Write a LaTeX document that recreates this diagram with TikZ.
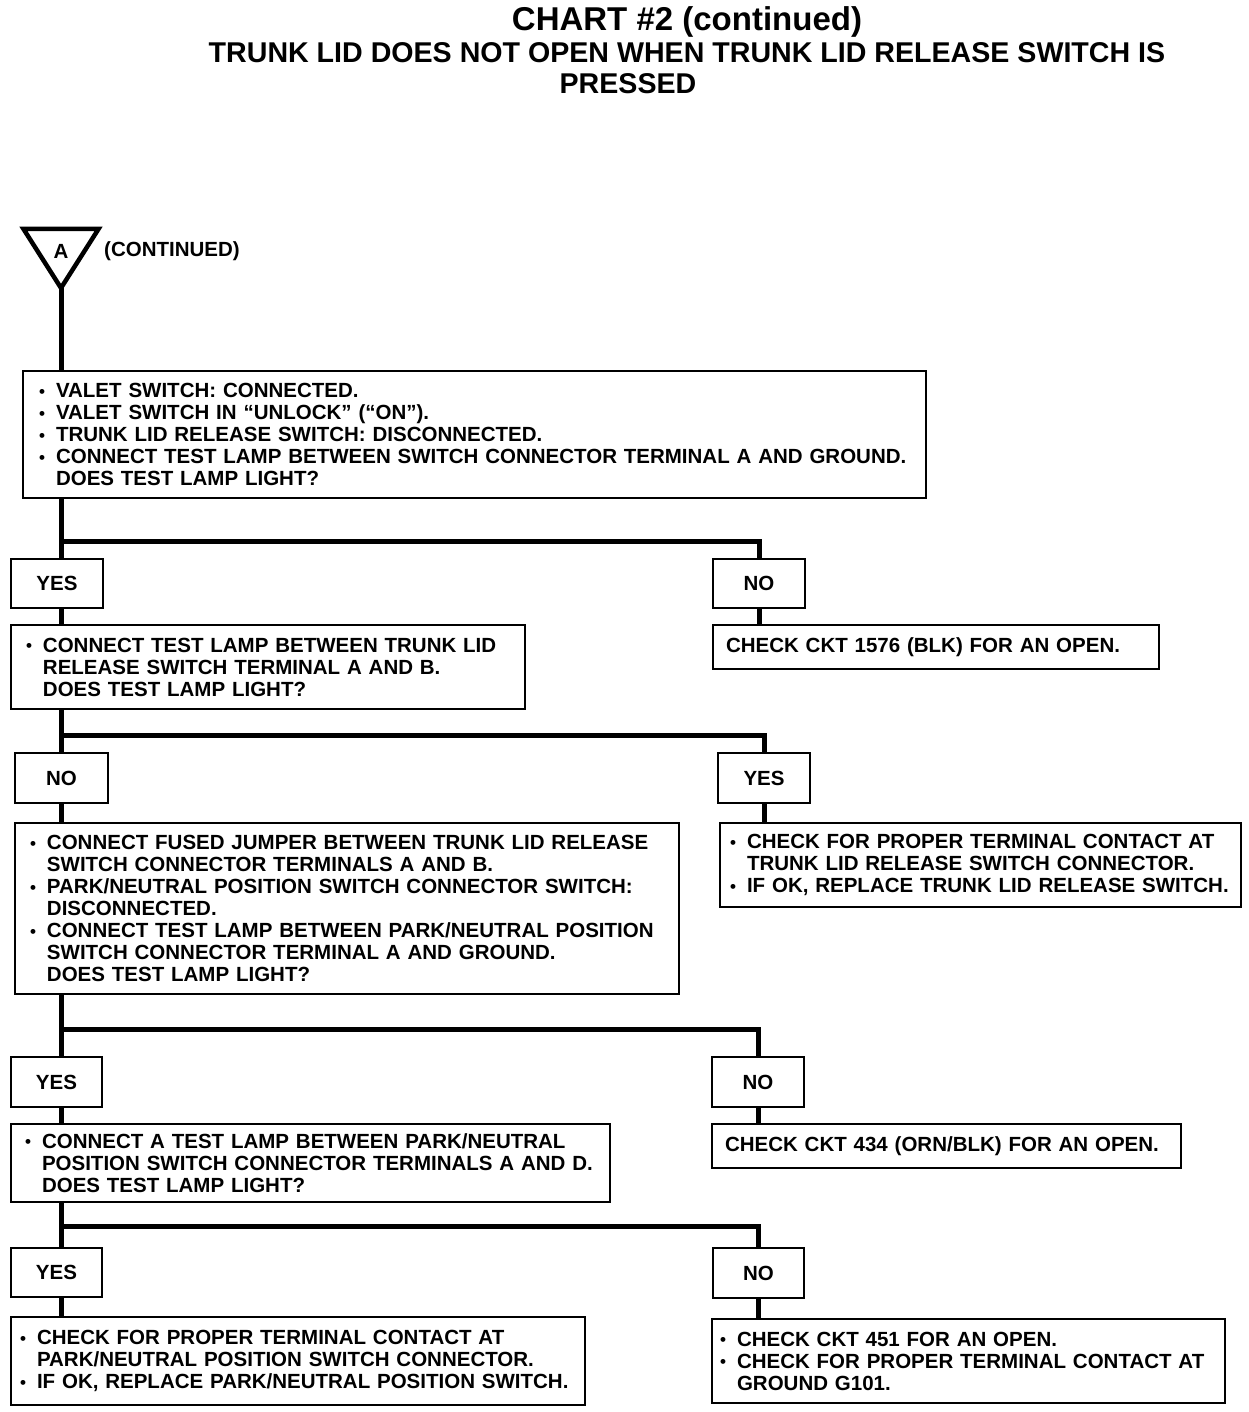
\documentclass[tikz,border=0pt]{standalone}
\usepackage{fontspec}
\setmainfont{Liberation Sans}
\usetikzlibrary{shapes.geometric}

\newcommand{\blt}{\makebox[17pt][l]{\raisebox{.5pt}{\fontsize{17}{17}\selectfont\textbullet}}}
\newcommand{\ind}{\hspace*{17pt}}

\tikzset{
  chart/.style={font=\fontsize{20.5}{22}\selectfont\bfseries},
  tbox/.style n args={3}{draw, line width=2pt, anchor=north west, align=left,
    inner xsep=#3, inner ysep=0pt,
    /utils/exec={\pgfmathsetlengthmacro\boxtw{#1-2*#3}},
    minimum width=#1, text width=\boxtw, minimum height=#2},
  ans/.style 2 args={draw, line width=2pt, anchor=north west, inner sep=0pt,
    minimum width=#1, minimum height=#2},
  conn/.style={line width=5pt},
}

\begin{document}
\begin{tikzpicture}[x=1pt, y=-1pt, chart]
  \useasboundingbox (0,0) rectangle (1248,1412);

  \node[font=\fontsize{33}{36}\selectfont\bfseries, anchor=base] (title) at (687,31) {CHART \#2 (continued)};
  \node[font=\fontsize{28.6}{30}\selectfont\bfseries, anchor=base] (sub) at (687,63)
    {TRUNK LID DOES NOT OPEN WHEN TRUNK LID RELEASE SWITCH IS};
  \node[font=\fontsize{28.6}{30}\selectfont\bfseries, anchor=base] (sub2) at (628,94) {PRESSED};

  \node[draw, line width=4.5pt, isosceles triangle, isosceles triangle stretches,
    shape border rotate=270, minimum width=75, minimum height=59, inner sep=0pt,
    outer sep=0pt, anchor=apex] (tri) at (61,288) {};
  \node (A) at (61,251) {A};
  \node[anchor=west, inner sep=0pt] (cont) at (104,251) {(CONTINUED)};

  % step 1
  \node[tbox={903}{127}{16}] (b1) at (22,370)
    {\blt VALET SWITCH: CONNECTED.\\
     \blt VALET SWITCH IN ``UNLOCK'' (``ON'').\\
     \blt TRUNK LID RELEASE SWITCH: DISCONNECTED.\\
     \blt CONNECT TEST LAMP BETWEEN SWITCH CONNECTOR TERMINAL A AND GROUND.\\
     \ind DOES TEST LAMP LIGHT?};
  \coordinate (j1) at (61,541);
  \node[ans={92}{49}] (yes1) at (10,558) {YES};
  \node[ans={92}{49}] (no1) at (712,558) {NO};
  \node[tbox={514}{84}{15}] (b2) at (10,624)
    {\blt CONNECT TEST LAMP BETWEEN TRUNK LID\\
     \ind RELEASE SWITCH TERMINAL A AND B.\\
     \ind DOES TEST LAMP LIGHT?};
  \node[tbox={446}{44}{13}] (r1) at (712,624) {CHECK CKT 1576 (BLK) FOR AN OPEN.};

  % step 2
  \coordinate (j2) at (61,735);
  \node[ans={93}{50}] (no2) at (14,752) {NO};
  \node[ans={92}{50}] (yes2) at (717,752) {YES};
  \node[tbox={664}{171}{15}] (b3) at (14,822)
    {\blt CONNECT FUSED JUMPER BETWEEN TRUNK LID RELEASE\\
     \ind SWITCH CONNECTOR TERMINALS A AND B.\\
     \blt PARK/NEUTRAL POSITION SWITCH CONNECTOR SWITCH:\\
     \ind DISCONNECTED.\\
     \blt CONNECT TEST LAMP BETWEEN PARK/NEUTRAL POSITION\\
     \ind SWITCH CONNECTOR TERMINAL A AND GROUND.\\
     \ind DOES TEST LAMP LIGHT?};
  \node[tbox={521}{84}{10}] (r2) at (719,822)
    {\blt CHECK FOR PROPER TERMINAL CONTACT AT\\
     \ind TRUNK LID RELEASE SWITCH CONNECTOR.\\
     \blt IF OK, REPLACE TRUNK LID RELEASE SWITCH.};

  % step 3
  \coordinate (j3) at (61,1029);
  \node[ans={91}{50}] (yes3) at (10,1056) {YES};
  \node[ans={92}{50}] (no3) at (711,1056) {NO};
  \node[tbox={599}{78}{14}] (b4) at (10,1123)
    {\blt CONNECT A TEST LAMP BETWEEN PARK/NEUTRAL\\
     \ind POSITION SWITCH CONNECTOR TERMINALS A AND D.\\
     \ind DOES TEST LAMP LIGHT?};
  \node[tbox={469}{44}{13}] (r3) at (711,1123) {CHECK CKT 434 (ORN/BLK) FOR AN OPEN.};

  % step 4
  \coordinate (j4) at (61,1226);
  \node[ans={91}{49}] (yes4) at (10,1247) {YES};
  \node[ans={91}{50}] (no4) at (712,1247) {NO};
  \node[tbox={574}{88}{9}] (b5) at (10,1316)
    {\blt CHECK FOR PROPER TERMINAL CONTACT AT\\
     \ind PARK/NEUTRAL POSITION SWITCH CONNECTOR.\\
     \blt IF OK, REPLACE PARK/NEUTRAL POSITION SWITCH.};
  \node[tbox={513}{84}{8}] (r4) at (711,1318)
    {\blt CHECK CKT 451 FOR AN OPEN.\\
     \blt CHECK FOR PROPER TERMINAL CONTACT AT\\
     \ind GROUND G101.};

  % trunk lines
  \draw[conn] (tri.apex) -- (tri.apex |- b1.north);
  \draw[conn] (b1.south -| j1) -- (yes1.north -| j1);
  \draw[conn] (j1) -| (no1.north);
  \draw[conn] (yes1.south -| j1) -- (b2.north -| j1);
  \draw[conn] (no1.south) -- (no1.south |- r1.north);

  \draw[conn] (b2.south -| j2) -- (no2.north -| j2);
  \draw[conn] (j2) -| (yes2.north);
  \draw[conn] (no2.south -| j2) -- (b3.north -| j2);
  \draw[conn] (yes2.south) -- (yes2.south |- r2.north);

  \draw[conn] (b3.south -| j3) -- (yes3.north -| j3);
  \draw[conn] (j3) -| (no3.north);
  \draw[conn] (yes3.south -| j3) -- (b4.north -| j3);
  \draw[conn] (no3.south) -- (no3.south |- r3.north);

  \draw[conn] (b4.south -| j4) -- (yes4.north -| j4);
  \draw[conn] (j4) -| (no4.north);
  \draw[conn] (yes4.south -| j4) -- (b5.north -| j4);
  \draw[conn] (no4.south) -- (no4.south |- r4.north);
\end{tikzpicture}
\end{document}
